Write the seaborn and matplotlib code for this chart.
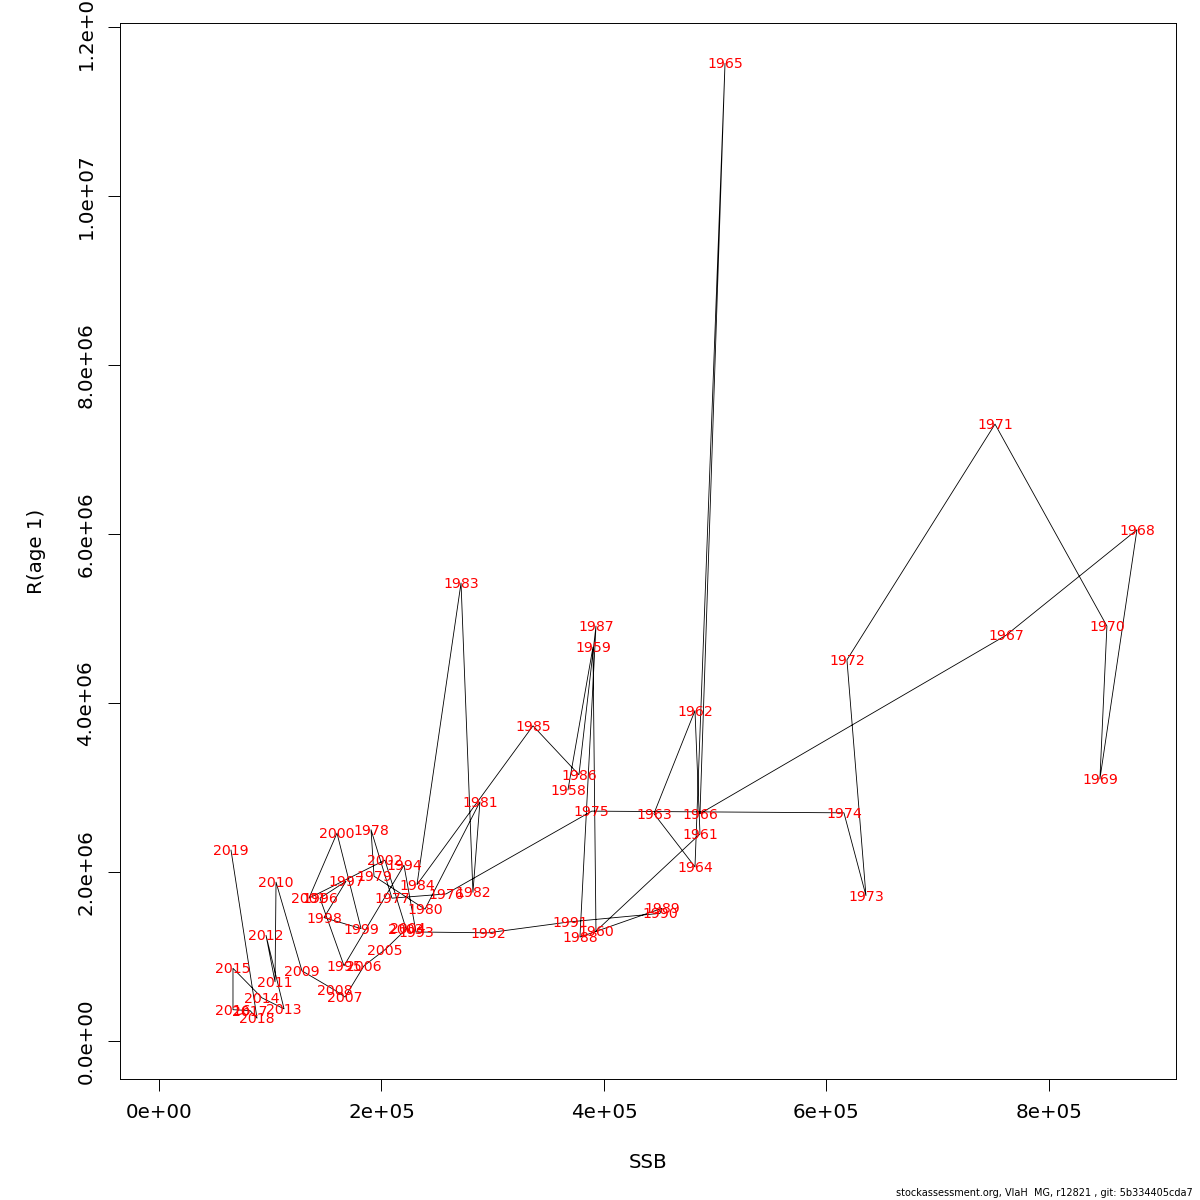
import matplotlib
matplotlib.use("Agg")
import matplotlib.pyplot as plt
import seaborn as sns
import pandas as pd
import numpy as np

years = list(range(1958, 2020))
ssb = [367.6, 390.1, 392.8, 486.3, 481.8, 444.9, 481.8, 508.8, 486.3, 761.3,
       879.1, 845.8, 852.1, 751.5, 618.4, 635.5, 615.7, 389.0, 258.0, 209.4,
       190.6, 193.3, 239.1, 288.5, 282.2, 271.5, 231.9, 336.2, 377.5, 392.8,
       378.4, 452.1, 450.3, 369.4, 295.7, 231.0, 220.2, 166.3, 144.7, 168.1,
       148.3, 181.6, 160.0, 134.8, 203.1, 222.0, 223.5, 203.1, 184.3, 167.2,
       158.2, 128.5, 105.2, 104.3, 96.2, 112.4, 92.6, 66.5, 66.5, 81.8,
       88.1, 64.7]
ssb = [v * 1000 for v in ssb]
rec = [2.97, 4.66, 1.30, 2.45, 3.91, 2.69, 2.06, 11.57, 2.69, 4.80,
       6.05, 3.10, 4.91, 7.30, 4.51, 1.72, 2.70, 2.72, 1.74, 1.69,
       2.50, 1.95, 1.56, 2.83, 1.76, 5.42, 1.85, 3.73, 3.15, 4.91,
       1.23, 1.57, 1.51, 1.41, 1.28, 1.29, 2.08, 0.89, 1.69, 1.89,
       1.46, 1.33, 2.46, 1.69, 2.14, 1.33, 1.34, 1.08, 0.89, 0.52,
       0.60, 0.83, 1.88, 0.70, 1.25, 0.38, 0.51, 0.86, 0.37, 0.36,
       0.27, 2.26]
rec = [v * 1e6 for v in rec]

xticks = [0, 2e5, 4e5, 6e5, 8e5]
xticklabels = ["0e+00", "2e+05", "4e+05", "6e+05", "8e+05"]
yticks = [0, 2e6, 4e6, 6e6, 8e6, 1e7, 1.2e7]
yticklabels = ["0.0e+00", "2.0e+06", "4.0e+06", "6.0e+06", "8.0e+06", "1.0e+07", "1.2e+07"]

df = pd.DataFrame({"year": years, "SSB": ssb, "R": rec})

sns.set_style("ticks")
plt.rcParams['font.family'] = ['DejaVu Sans']
plt.rcParams['text.color'] = 'black'
plt.rcParams['axes.labelcolor'] = 'black'
plt.rcParams['xtick.color'] = 'black'
plt.rcParams['ytick.color'] = 'black'

fig = plt.figure(figsize=(12, 12), dpi=100)
ax = fig.add_axes([0.1, 1 - 1079 / 1200, (1176 - 120) / 1200, (1079 - 23) / 1200])

sns.lineplot(data=df, x="SSB", y="R", sort=False, estimator=None,
             color="black", linewidth=0.6, ax=ax)
for yr, xv, yv in zip(df["year"], df["SSB"], df["R"]):
    ax.text(xv, yv - 0.012e6, str(yr), color="red", fontsize=10.2, ha="center", va="center")

ax.set_xlim(-35060, 914200)
ax.set_ylim(-0.45e6, 12.047e6)
ax.set_xticks(xticks)
ax.set_xticklabels(xticklabels, fontsize=14.3, color="black")
ax.set_yticks(yticks)
ax.set_yticklabels(yticklabels, fontsize=14.3, rotation=90, va="center", color="black")
ax.tick_params(axis="both", length=8.6, width=0.7, color="black")
ax.tick_params(axis="x", pad=9)
ax.tick_params(axis="y", pad=9)
for s in ax.spines.values():
    s.set_visible(True)
    s.set_linewidth(0.7)
    s.set_color("black")

ax.set_xlabel("SSB", fontsize=14.3, labelpad=22, color="black")
ax.set_ylabel("R(age 1)", fontsize=14.3, labelpad=22, color="black")

fig.text(1193 / 1200, 1 - 1193 / 1200, "stockassessment.org, VlaH  MG, r12821 , git: 5b334405cda7",
         fontsize=7, ha="right", va="center", color="black")

fig.savefig("out.png", dpi=100)
